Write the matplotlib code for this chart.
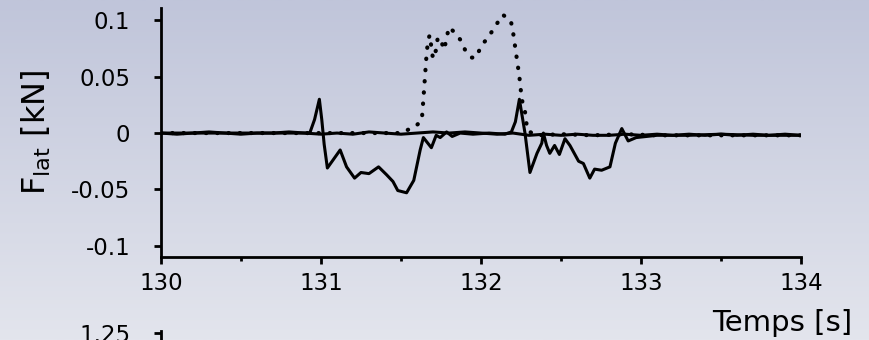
import numpy as np
import matplotlib
matplotlib.use("Agg")
import matplotlib.pyplot as plt
from matplotlib.colors import LinearSegmentedColormap

plt.rcParams['font.family'] = ['DejaVu Sans']
plt.rcParams['mathtext.default'] = 'regular'

# flat reference trace
base_t = [130.0, 130.1, 130.2, 130.3, 130.4, 130.5, 130.6, 130.7, 130.8, 130.9,
          131.0, 131.1, 131.2, 131.3, 131.4, 131.5, 131.6, 131.7, 131.8, 131.9,
          132.0, 132.1, 132.2, 132.3, 132.4, 132.5, 132.6, 132.7, 132.8, 132.9,
          133.0, 133.1, 133.2, 133.3, 133.4, 133.5, 133.6, 133.7, 133.8, 133.9, 134.0]
base_v = [0.000, -0.001, 0.000, 0.001, 0.000, -0.001, 0.000, 0.000, 0.001, 0.000,
          -0.001, 0.000, -0.001, 0.001, 0.000, -0.001, 0.000, 0.001, 0.000, 0.001,
          0.000, -0.001, 0.000, -0.002, -0.001, -0.002, -0.001, -0.002, -0.002, -0.001,
          -0.002, -0.001, -0.002, -0.001, -0.002, -0.001, -0.002, -0.001, -0.002, -0.001, -0.002]

# solid trace with the two spikes
solid_t = [130.0, 130.5, 130.93, 130.96, 130.99, 131.005, 131.02, 131.04, 131.075, 131.12,
           131.16, 131.21, 131.25, 131.30, 131.36, 131.41, 131.45, 131.48, 131.535, 131.58,
           131.62, 131.64, 131.69, 131.72, 131.745, 131.785, 131.82, 131.87, 131.95, 132.05,
           132.15, 132.19, 132.215, 132.24, 132.275, 132.306, 132.35, 132.38, 132.39, 132.41,
           132.43, 132.46, 132.49, 132.525, 132.556, 132.61, 132.64, 132.68, 132.71, 132.754,
           132.806, 132.84, 132.88, 132.92, 132.97, 133.1, 133.3, 133.5, 133.7, 134.0]
solid_v = [0.000, 0.000, 0.000, 0.012, 0.030, 0.012, -0.010, -0.031, -0.024, -0.015,
           -0.030, -0.040, -0.035, -0.036, -0.030, -0.037, -0.043, -0.051, -0.053, -0.042,
           -0.015, -0.004, -0.013, -0.002, -0.004, 0.001, -0.003, 0.000, -0.001, 0.000,
           -0.001, 0.001, 0.010, 0.030, 0.000, -0.035, -0.018, -0.009, 0.000, -0.011,
           -0.018, -0.011, -0.019, -0.005, -0.011, -0.025, -0.027, -0.040, -0.032, -0.033,
           -0.030, -0.009, 0.004, -0.007, -0.004, -0.002, -0.002, -0.001, -0.002, -0.002]

# dotted trace
dot_t = [130.0, 130.5, 131.0, 131.5, 131.59, 131.63, 131.64, 131.65, 131.66, 131.67,
         131.68, 131.69, 131.70, 131.72, 131.73, 131.75, 131.77, 131.786, 131.80, 131.83,
         131.87, 131.90, 131.94, 131.97, 132.00, 132.05, 132.09, 132.136, 132.186, 132.20,
         132.22, 132.24, 132.255, 132.275, 132.29, 132.35, 132.5, 132.7, 132.9, 133.1,
         133.3, 133.5, 133.7, 133.9, 134.0]
dot_v = [0.000, 0.000, 0.000, 0.000, 0.006, 0.011, 0.030, 0.050, 0.070, 0.083,
         0.087, 0.076, 0.066, 0.074, 0.085, 0.082, 0.074, 0.085, 0.094, 0.090,
         0.083, 0.074, 0.067, 0.067, 0.077, 0.086, 0.095, 0.105, 0.100, 0.090,
         0.070, 0.050, 0.030, 0.019, 0.002, -0.002, -0.001, -0.002, -0.001, -0.002,
         -0.002, -0.002, -0.002, -0.002, -0.002]

yticks = [-0.1, -0.05, 0, 0.05, 0.1]
ytick_labels = ['-0.1', '-0.05', '0', '0.05', '0.1']
xticks = [130, 131, 132, 133, 134]

fig = plt.figure(figsize=(8.7, 3.4), dpi=100)

# gradient background
bg = fig.add_axes([0, 0, 1, 1], zorder=-10)
cmap = LinearSegmentedColormap.from_list('bg', ['#e3e5ed', '#c0c5da'])
bg.imshow(np.linspace(0, 1, 256).reshape(-1, 1), aspect='auto', cmap=cmap,
          origin='lower', extent=[0, 1, 0, 1])
bg.axis('off')

ax = fig.add_axes([0.185, 0.2441, 0.7357, 0.7324])
ax.patch.set_alpha(0)
ax.plot(base_t, base_v, color='black', lw=2.2, solid_joinstyle='round', solid_capstyle='round')
ax.plot(solid_t, solid_v, color='black', lw=2.2, solid_joinstyle='round', solid_capstyle='round')
ax.plot(dot_t, dot_v, color='black', lw=3, dashes=(0.1, 2.6), dash_capstyle='round')

ax.set_xlim(130, 134)
ax.set_ylim(-0.11, 0.111)
ax.set_yticks(yticks)
ax.set_yticklabels(ytick_labels)
ax.set_xticks(xticks)
ax.set_xticks([130.5, 131.5, 132.5, 133.5], minor=True)
for s in ['top', 'right']:
    ax.spines[s].set_visible(False)
for s in ['left', 'bottom']:
    ax.spines[s].set_linewidth(2)
ax.tick_params(axis='y', direction='out', length=5, width=2, labelsize=16.5, pad=17)
ax.tick_params(axis='x', which='major', direction='out', length=5, width=2, labelsize=16.5, pad=6)
ax.tick_params(axis='x', which='minor', direction='out', length=3, width=2)
ax.set_ylabel(r'F$_{lat}$ [kN]', fontsize=23, labelpad=13)

fig.text(852 / 870, 1 - 331 / 340, 'Temps [s]', fontsize=21, ha='right', va='baseline')

# top of the next panel, cut off by the figure edge
ax2 = fig.add_axes([0.185, -0.6, 0.7357, 0.6265])
ax2.patch.set_alpha(0)
ax2.set_ylim(-0.25, 1.264)
ax2.set_yticks([1.25])
ax2.set_yticklabels(['1.25'])
ax2.set_xticks([])
for s in ['top', 'right', 'bottom']:
    ax2.spines[s].set_visible(False)
ax2.spines['left'].set_linewidth(2)
ax2.tick_params(axis='y', direction='out', length=5, width=2, labelsize=16.5, pad=17)

fig.savefig('out.png', dpi=100)
